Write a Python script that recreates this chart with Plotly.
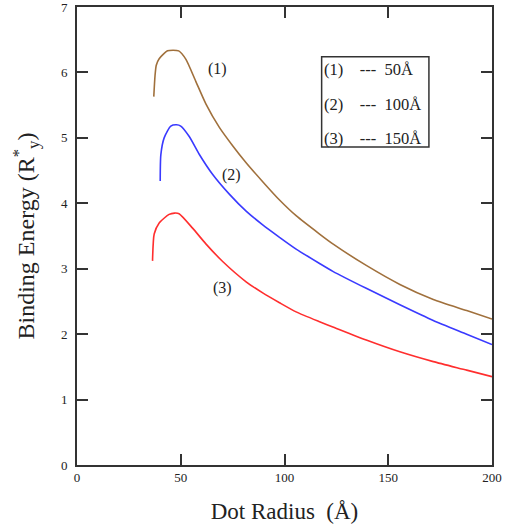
import plotly.graph_objects as go

# Data
x1 = [37.0, 37.6, 38.2, 39.6, 43.6, 46.3, 49.0, 52.5, 57.3, 62.1, 68.6, 75.0, 81.5, 89.5, 97.6, 105.6, 116.9, 123.3, 139.4, 155.6, 171.7, 187.8, 200.0]
y1 = [5.63, 5.95, 6.11, 6.21, 6.33, 6.34, 6.33, 6.20, 5.86, 5.52, 5.16, 4.88, 4.62, 4.33, 4.05, 3.81, 3.53, 3.38, 3.05, 2.76, 2.53, 2.36, 2.23]

x2 = [40.1, 40.4, 42.0, 45.2, 48.0, 50.0, 54.1, 58.9, 65.4, 73.4, 81.5, 89.5, 97.6, 105.6, 116.9, 123.3, 139.4, 155.6, 171.7, 187.8, 200.0]
y2 = [4.34, 4.74, 5.00, 5.18, 5.20, 5.18, 5.02, 4.75, 4.44, 4.14, 3.88, 3.67, 3.48, 3.30, 3.08, 2.96, 2.70, 2.45, 2.21, 2.00, 1.84]

x3 = [36.4, 37.2, 39.6, 44.4, 47.0, 49.2, 55.7, 62.1, 70.2, 81.5, 89.5, 97.6, 105.6, 116.9, 123.3, 139.4, 155.6, 171.7, 187.8, 200.0]
y3 = [3.12, 3.53, 3.70, 3.83, 3.85, 3.84, 3.62, 3.38, 3.11, 2.80, 2.63, 2.48, 2.34, 2.19, 2.11, 1.91, 1.73, 1.58, 1.45, 1.35]

curve_labels = ["(1)", "(2)", "(3)"]
label_x = [67.6, 74.4, 70.0]
label_y = [6.06, 4.44, 2.71]

legend_lines = ["(1)&nbsp;&nbsp;&nbsp;&nbsp;---&nbsp;&nbsp;50Å",
                "(2)&nbsp;&nbsp;&nbsp;&nbsp;---&nbsp;&nbsp;100Å",
                "(3)&nbsp;&nbsp;&nbsp;&nbsp;---&nbsp;&nbsp;150Å"]
legend_y = [6.04, 5.51, 4.99]

colors = ["#A0703C", "#3A3AFF", "#FF2E2E"]
FONT = "Liberation Serif"
AX = "#333333"

fig = go.Figure()
for xs, ys, c in zip([x1, x2, x3], [y1, y2, y3], colors):
    fig.add_trace(go.Scatter(x=xs, y=ys, mode="lines",
                             line=dict(color=c, width=1.6, shape="spline", smoothing=0.6),
                             showlegend=False, hoverinfo="skip"))

for t, lx, ly in zip(curve_labels, label_x, label_y):
    fig.add_annotation(x=lx, y=ly, text=t, showarrow=False,
                       font=dict(family=FONT, size=16, color="#222"))

fig.add_shape(type="rect", x0=117.9, x1=169.6, y0=4.86, y1=6.24,
              line=dict(color=AX, width=1.5), fillcolor="rgba(0,0,0,0)")
for t, ly in zip(legend_lines, legend_y):
    fig.add_annotation(x=118.2, y=ly, text=t, showarrow=False, xanchor="left",
                       font=dict(family=FONT, size=16.5, color="#222"))

axis_common = dict(showline=True, linecolor=AX, linewidth=1.6, mirror="ticks",
                   ticks="inside", ticklen=11, tickwidth=1.5, tickcolor=AX,
                   showgrid=False, zeroline=False, automargin=False,
                   ticklabeloverflow="allow",
                   tickfont=dict(family=FONT, size=13, color="#222"))

fig.update_xaxes(range=[0, 200], tickvals=[0, 50, 100, 150, 200],
                 title=dict(text="Dot Radius&nbsp;&nbsp;(Å)", standoff=18,
                            font=dict(family=FONT, size=23, color="#222")),
                 **axis_common)
fig.update_yaxes(range=[0, 7], tickvals=[0, 1, 2, 3, 4, 5, 6, 7],
                 ticklabelstandoff=5,
                 title=dict(text="Binding Energy (R<sup>*</sup><sub>y</sub>)", standoff=20,
                            font=dict(family=FONT, size=24, color="#222")),
                 **axis_common)

fig.update_layout(width=511, height=530, margin=dict(l=77, r=19, t=7, b=65),
                  plot_bgcolor="white", paper_bgcolor="white")

fig.write_html("out.html", config={"displayModeBar": False},
               post_script="document.body.style.margin='0';")
